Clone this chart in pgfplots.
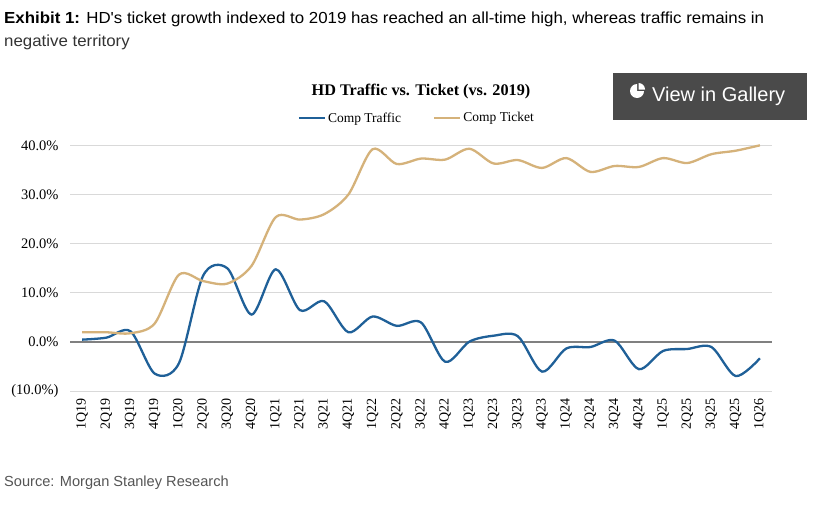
\documentclass[border=0pt]{standalone}
\usepackage{pgfplots}
\pgfplotsset{compat=1.18}
\usepackage{pgfplotstable}
\usepackage{fontspec}
\setmainfont{Liberation Serif}
\newfontfamily\headfont{Liberation Sans}
\definecolor{trafficblue}{RGB}{31,96,152}
\definecolor{tickettan}{RGB}{213,178,122}
\definecolor{gridgray}{RGB}{217,217,217}
\definecolor{zerogray}{RGB}{128,128,128}
\definecolor{gallerygray}{RGB}{74,74,74}
\definecolor{headgray}{RGB}{51,51,51}
\definecolor{srcgray}{RGB}{85,85,85}

\pgfplotstableread{
i traffic ticket
0 0.5 2.0
1 0.9 2.0
2 2.2 1.8
3 -6.4 3.8
4 -4.3 13.7
5 13.5 12.4
6 15.0 11.9
7 5.6 15.5
8 14.8 25.4
9 6.5 24.9
10 8.3 26.0
11 2.0 30.0
12 5.2 39.2
13 3.3 36.2
14 4.0 37.3
15 -4.0 37.1
16 0.1 39.3
17 1.3 36.3
18 1.2 37.0
19 -6.0 35.4
20 -1.3 37.4
21 -1.0 34.6
22 0.3 35.8
23 -5.5 35.6
24 -1.8 37.4
25 -1.4 36.4
26 -1.0 38.2
27 -6.9 38.9
28 -3.3 40.0
}\hddata

\newsavebox\lineone
\begin{document}
\sbox\lineone{\headfont\fontsize{16bp}{19bp}\selectfont\textbf{Exhibit 1:} HD's ticket growth indexed to 2019 has reached an all-time high, whereas traffic remains in}%
\pgfmathsetmacro\lw{\wd\lineone}%
\pgfmathsetmacro\hs{762.85/\lw}%
\begin{tikzpicture}
\fill[white] (0,0) rectangle (822bp,-507bp);
\path[use as bounding box] (0,0) rectangle (822bp,-507bp);

% header
\node[anchor=west, inner sep=0pt, text=headgray] at (4bp,-19bp) {\scalebox{\hs}[1]{\usebox\lineone}};
\node[anchor=west, inner sep=0pt, text=headgray] at (4bp,-42bp) {\scalebox{\hs}[1]{\headfont\fontsize{16bp}{19bp}\selectfont negative territory}};

% source
\node[anchor=west, inner sep=0pt, text=srcgray] at (4bp,-483bp) {\headfont\fontsize{14.6bp}{17bp}\selectfont Source: Morgan Stanley Research};

% chart title
\node[inner sep=0pt] at (421bp,-92bp) {\fontsize{16.2bp}{19bp}\selectfont\bfseries HD Traffic vs. Ticket (vs. 2019)};

\begin{axis}[
  at={(70bp,-391.3bp)}, anchor=south west,
  scale only axis, width=702bp, height=246bp,
  xmin=-0.5, xmax=28.5, ymin=-10, ymax=40,
  clip=false,
  axis line style={draw=none},
  tick style={draw=none},
  ymajorgrids, grid style={gridgray, line width=1bp},
  ytick={-10,0,10,20,30,40},
  yticklabels={(10.0\%),0.0\%,10.0\%,20.0\%,30.0\%,40.0\%},
  yticklabel style={font=\fontsize{14.5bp}{17bp}\selectfont},
  yticklabel shift=8bp,
  xtick={0,...,28},
  xticklabels={1Q19,2Q19,3Q19,4Q19,1Q20,2Q20,3Q20,4Q20,1Q21,2Q21,3Q21,4Q21,1Q22,2Q22,3Q22,4Q22,1Q23,2Q23,3Q23,4Q23,1Q24,2Q24,3Q24,4Q24,1Q25,2Q25,3Q25,4Q25,1Q26},
  xticklabel style={rotate=90, anchor=east, font=\fontsize{14bp}{16bp}\selectfont},
  xticklabel shift=4bp,
  legend style={at={(0.494,1.111)}, anchor=center, draw=none, fill=none,
    font=\fontsize{13.5bp}{16bp}\selectfont, legend columns=2,
    /tikz/every even column/.append style={column sep=30bp}},
  legend image code/.code={\draw[#1] (0bp,0bp) -- (26bp,0bp);},
]
\addplot[zerogray, line width=1.5bp, forget plot] coordinates {(-0.5,0) (28.5,0)};
\addplot[trafficblue, line width=2.3bp, smooth] table[x=i, y=traffic] {\hddata};
\addlegendentry{Comp Traffic}
\addplot[tickettan, line width=2.3bp, smooth] table[x=i, y=ticket] {\hddata};
\addlegendentry{Comp Ticket}
\end{axis}

% View in Gallery button
\fill[gallerygray] (613bp,-73bp) rectangle (807bp,-120bp);
\fill[white] (637bp,-91bp) -- ++(90:7bp) arc[start angle=90, end angle=360, radius=7bp] -- cycle;
\fill[white] (638.5bp,-89.5bp) -- ++(0:6.5bp) arc[start angle=0, end angle=90, radius=6.5bp] -- cycle;
\node[anchor=west, inner sep=0pt, text=white] at (652bp,-96.5bp) {\headfont\fontsize{20bp}{24bp}\selectfont View in Gallery};
\end{tikzpicture}
\end{document}
